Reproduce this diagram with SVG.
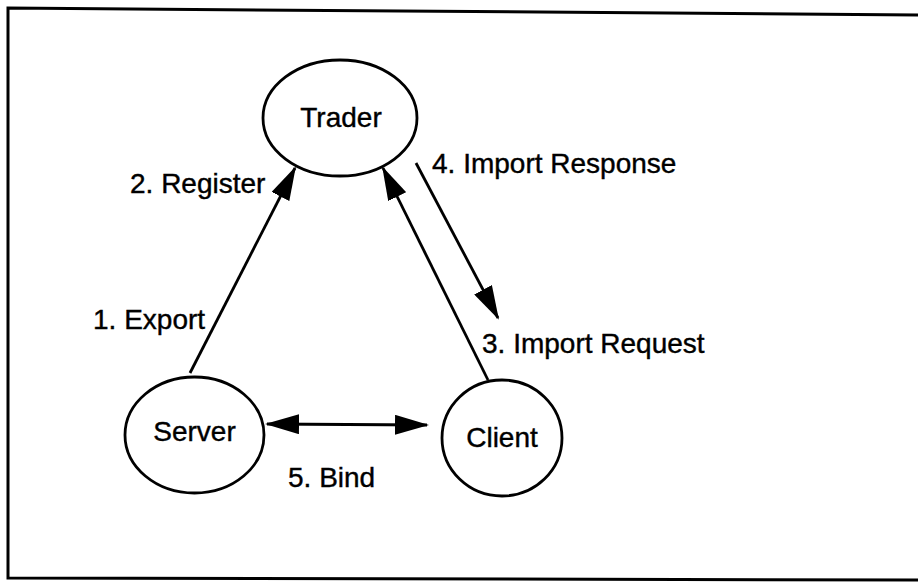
<svg xmlns="http://www.w3.org/2000/svg" width="918" height="583" viewBox="0 0 918 583">
<style>
.node{fill:#fff;stroke:#000;stroke-width:2.8}
.lbl{font-family:"Liberation Sans",Arial,sans-serif;font-size:28px;fill:#000;stroke:#000;stroke-width:0.4}
.edge{stroke:#000;stroke-width:2.8;fill:none}
</style>
<defs>
<marker id="ah" markerUnits="userSpaceOnUse" markerWidth="34" markerHeight="20" refX="32" refY="10" orient="auto-start-reverse" viewBox="0 0 34 20">
<path d="M0,0 L34,10 L0,20 Z" fill="#000"/>
</marker>
</defs>
<rect width="918" height="583" fill="#fff"/>
<path d="M918,15 L8,8 L8,578 L918,580" fill="none" stroke="#000" stroke-width="3"/>
<g id="trader"><ellipse class="node" cx="340" cy="118" rx="77" ry="58"/><text class="lbl" x="341" y="127" text-anchor="middle">Trader</text></g>
<g id="server"><ellipse class="node" cx="194.5" cy="435" rx="69.5" ry="58"/><text class="lbl" x="194.5" y="441" text-anchor="middle">Server</text></g>
<g id="client"><ellipse class="node" cx="502" cy="438" rx="60" ry="58"/><text class="lbl" x="502" y="447" text-anchor="middle">Client</text></g>
<g id="connectors">
<line class="edge" x1="190" y1="373" x2="295" y2="168" marker-end="url(#ah)"/>
<line class="edge" x1="488" y1="380" x2="383" y2="168" marker-end="url(#ah)"/>
<line class="edge" x1="416" y1="163" x2="498" y2="318" marker-end="url(#ah)"/>
<line class="edge" x1="267" y1="424" x2="427" y2="425" marker-start="url(#ah)" marker-end="url(#ah)"/>
</g>
<g id="labels">
<text class="lbl" x="130" y="193">2. Register</text>
<text class="lbl" x="432" y="173">4. Import Response</text>
<text class="lbl" x="93" y="329">1. Export</text>
<text class="lbl" x="482" y="353">3. Import Request</text>
<text class="lbl" x="288" y="487">5. Bind</text>
</g>
</svg>
